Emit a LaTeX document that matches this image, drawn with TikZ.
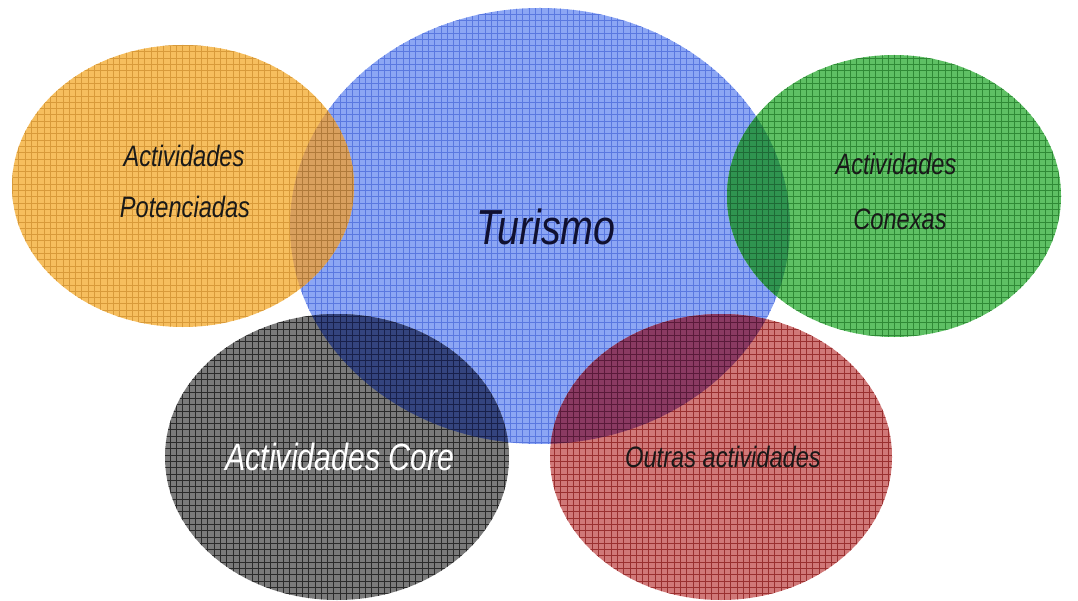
\documentclass[tikz,border=0pt]{standalone}
\usepackage{fontspec}
\usepackage{tikz}
\newfontfamily\lblfont[FakeStretch=0.8]{Liberation Sans}

\definecolor{turfill}{HTML}{8CA6F4}
\definecolor{turline}{HTML}{5A78E0}
\definecolor{potfill}{HTML}{F6BE5E}
\definecolor{potline}{HTML}{D89A3A}
\definecolor{confill}{HTML}{5EC064}
\definecolor{conline}{HTML}{2F8A36}
\definecolor{corfill}{HTML}{7A7A7A}
\definecolor{corline}{HTML}{2A2A2A}
\definecolor{outfill}{HTML}{D07878}
\definecolor{outline}{HTML}{9A3030}
\definecolor{potturfill}{HTML}{D9A05E}
\definecolor{potturline}{HTML}{B07A3A}
\definecolor{conturfill}{HTML}{2F9450}
\definecolor{conturline}{HTML}{1E6A36}
\definecolor{corturfill}{HTML}{34447E}
\definecolor{corturline}{HTML}{18204A}
\definecolor{outturfill}{HTML}{8A3A62}
\definecolor{outturline}{HTML}{5A1A3A}
\definecolor{turtext}{HTML}{101030}

\begin{document}
\begin{tikzpicture}[x=0.025cm,y=0.025cm]
\tikzset{txt/.style = {font=\lblfont\itshape, anchor=base, inner sep=0pt, text=black!90}}
\tikzset{mesh/.style = {line width=0.6pt, step=6.3}}
% canvas
\fill[white] (0,0) rectangle (1078,600);
\useasboundingbox (0,0) rectangle (1078,600);
% centres
\coordinate (tur) at (540,374);
\coordinate (pot) at (183,414);
\coordinate (con) at (894,404);
\coordinate (cor) at (337,143);
\coordinate (out) at (721,143);
% ellipses
\foreach \c/\rx/\ry in {tur/250/218, pot/171/141, con/167/141, cor/172/143, out/171/143} {
  \begin{scope}
    \clip (\c) ellipse [x radius=\rx, y radius=\ry];
    \fill[\c fill] (0,0) rectangle (1078,600);
    \draw[mesh, \c line] (0,0) grid (1078,600);
  \end{scope}
}
% overlaps with Turismo
\foreach \c/\rx/\ry in {pot/171/141, con/167/141, cor/172/143, out/171/143} {
  \begin{scope}
    \clip (tur) ellipse [x radius=250, y radius=218];
    \clip (\c) ellipse [x radius=\rx, y radius=\ry];
    \fill[\c turfill] (0,0) rectangle (1078,600);
    \draw[mesh, \c turline] (0,0) grid (1078,600);
  \end{scope}
}
% texts
\node[txt, font=\lblfont\itshape\fontsize{21}{21}\selectfont] (pota) at (184,433) {Actividades};
\node[txt, font=\lblfont\itshape\fontsize{21}{21}\selectfont] (potb) at (185,382) {Potenciadas};
\node[txt, font=\lblfont\itshape\fontsize{35}{35}\selectfont, text=turtext] (turt) at (546,355) {Turismo};
\node[txt, font=\lblfont\itshape\fontsize{21}{21}\selectfont] (cona) at (896,425) {Actividades};
\node[txt, font=\lblfont\itshape\fontsize{21}{21}\selectfont] (conb) at (900,370) {Conexas};
\node[txt, font=\lblfont\itshape\fontsize{27}{27}\selectfont, text=white] (cort) at (340,130) {Actividades Core};
\node[txt, font=\lblfont\itshape\fontsize{21}{21}\selectfont] (outt) at (723,133) {Outras actividades};
\end{tikzpicture}
\end{document}
